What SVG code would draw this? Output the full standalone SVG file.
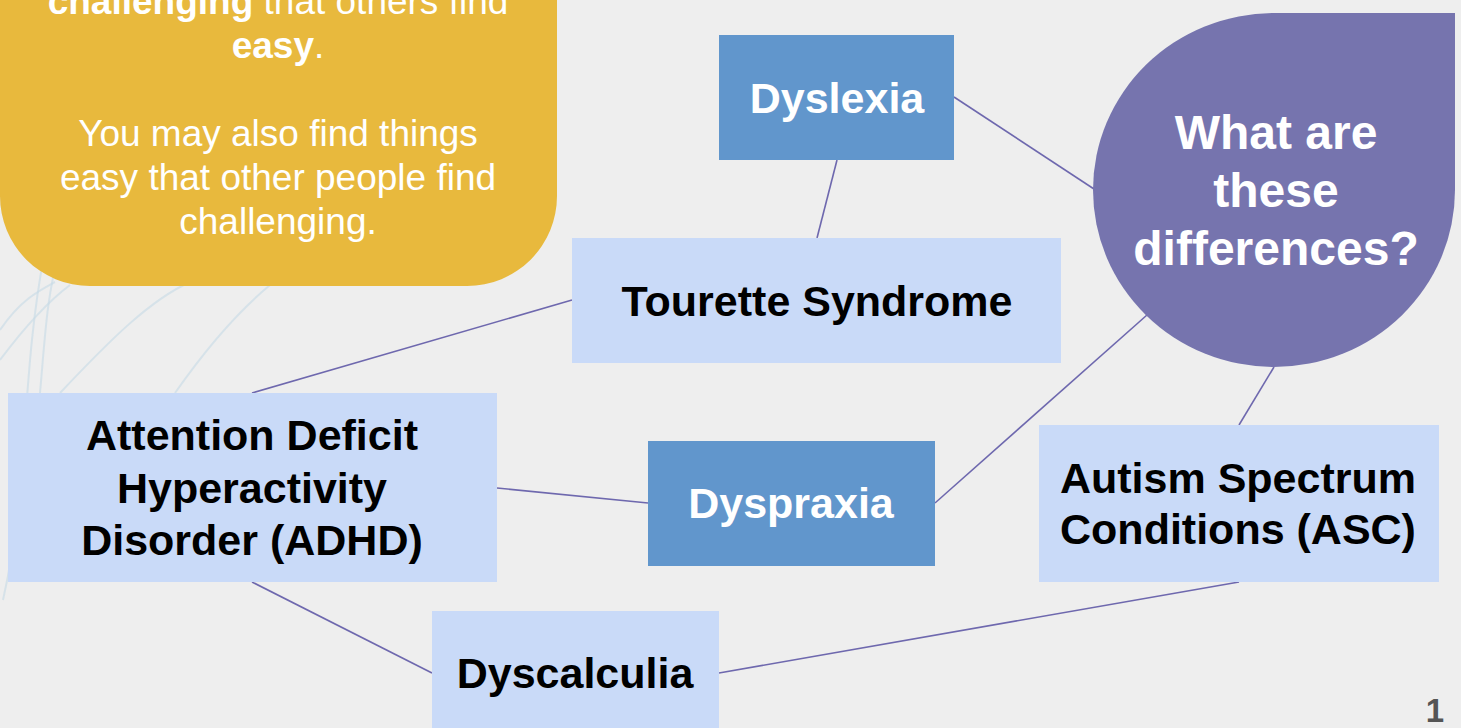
<svg xmlns="http://www.w3.org/2000/svg" width="1461" height="728" viewBox="0 0 1461 728">
<style>
.bg{fill:#eeeeee}
.light{fill:#c9daf8}
.dark{fill:#6196cc}
.t{font-family:"Liberation Sans",Arial,sans-serif;font-weight:bold;text-anchor:middle}
.tb{fill:#000;font-size:43px}
.tw{fill:#fff;font-size:43px}
.conn line{stroke:#6e68ae;stroke-width:1.6}
.deco path{fill:none;stroke:#c7dbe6;stroke-width:2;opacity:0.6}
</style>
<rect class="bg" x="0" y="0" width="1461" height="728"/>
<g class="deco">
<path d="M3 600 C 30 480, 20 380, 45 250"/>
<path d="M10 560 C 50 430, 35 330, 60 250"/>
<path d="M0 360 C 30 320, 50 300, 70 285"/>
<path d="M60 393 C 110 340, 150 300, 190 282"/>
<path d="M175 393 C 205 350, 240 310, 270 285"/>
<path d="M0 330 C 20 300, 40 290, 55 282"/>
</g>
<g id="intro">
<path d="M-20 -20 H557 V196 A90 90 0 0 1 467 286 H90 A90 90 0 0 1 0 196 V-20 Z" fill="#e8b93d"/>
<g font-family="Liberation Sans, Arial, sans-serif" font-size="37" fill="#fff" text-anchor="middle">
<text x="278" y="14"><tspan font-weight="bold">challenging</tspan> that others find</text>
<text x="278" y="58"><tspan font-weight="bold">easy</tspan>.</text>
<text x="278" y="146">You may also find things</text>
<text x="278" y="190">easy that other people find</text>
<text x="278" y="234">challenging.</text>
</g>
</g>
<g class="conn" id="connectors">
<line x1="954" y1="97" x2="1094" y2="189"/>
<line x1="837" y1="160" x2="817" y2="238"/>
<line x1="572" y1="300" x2="252" y2="393"/>
<line x1="497" y1="488" x2="648" y2="503"/>
<line x1="935" y1="503" x2="1147" y2="315"/>
<line x1="1274" y1="367" x2="1239" y2="425"/>
<line x1="1239" y1="582" x2="719" y2="673"/>
<line x1="252" y1="582" x2="432" y2="673"/>
</g>
<g id="question">
<path d="M1274 13 H1455 V190 A181 177 0 1 1 1274 13 Z" fill="#7674ae"/>
<g class="t" fill="#fff" font-size="48">
<text x="1276" y="149">What are</text>
<text x="1276" y="207">these</text>
<text x="1276" y="265">differences?</text>
</g>
</g>
<g id="dyslexia">
<rect class="dark" x="719" y="35" width="235" height="125"/>
<text class="t tw" x="837" y="113">Dyslexia</text>
</g>
<g id="tourette">
<rect class="light" x="572" y="238" width="489" height="125"/>
<text class="t tb" x="817" y="316">Tourette Syndrome</text>
</g>
<g id="adhd">
<rect class="light" x="8" y="393" width="489" height="189"/>
<text class="t tb" x="252" y="450">Attention Deficit</text>
<text class="t tb" x="252" y="503">Hyperactivity</text>
<text class="t tb" x="252" y="555">Disorder (ADHD)</text>
</g>
<g id="dyspraxia">
<rect class="dark" x="648" y="441" width="287" height="125"/>
<text class="t tw" x="791" y="518">Dyspraxia</text>
</g>
<g id="asc">
<rect class="light" x="1039" y="425" width="400" height="157"/>
<text class="t tb" x="1238" y="493">Autism Spectrum</text>
<text class="t tb" x="1238" y="544">Conditions (ASC)</text>
</g>
<g id="dyscalculia">
<rect class="light" x="432" y="611" width="287" height="125"/>
<text class="t tb" x="575" y="688">Dyscalculia</text>
</g>
<text x="1444" y="722" font-family="Liberation Sans, Arial, sans-serif" font-weight="bold" font-size="33" fill="#555" text-anchor="end">1</text>
</svg>
